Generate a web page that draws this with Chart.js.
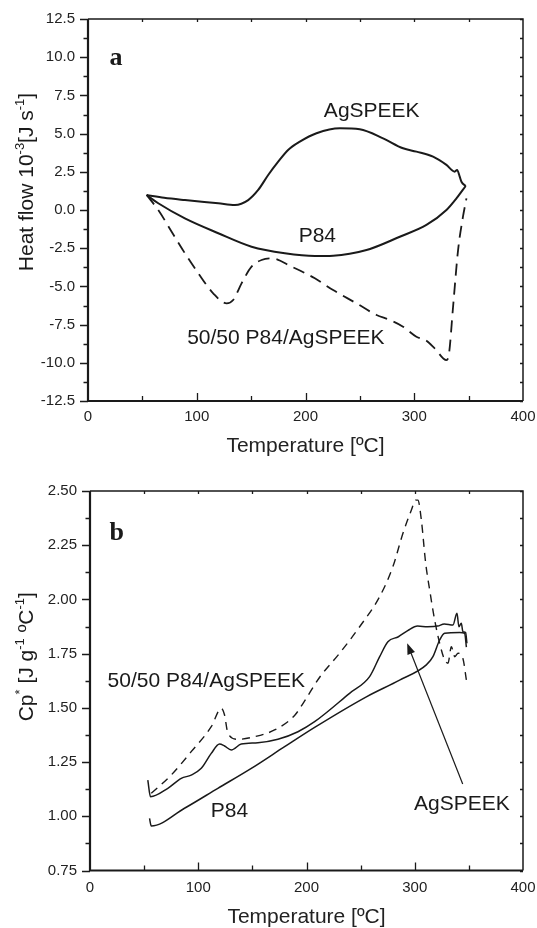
<!DOCTYPE html>
<html>
<head>
<meta charset="utf-8">
<script src="https://cdn.jsdelivr.net/npm/chart.js@4.4.1/dist/chart.umd.min.js"></script>
<style>
body { margin: 0; background: #fff; }
canvas { display: block; }
</style>
</head>
<body>
<canvas id="chartA" width="537" height="460"></canvas>
<canvas id="chartB" width="537" height="468"></canvas>
<script>
// ---- panel a : heat flow (10^-3 J/s) ----
var tempAgA = [53.9, 70, 89.1, 119.8, 135.1, 147.3, 156.5, 165.7, 174.9, 184, 194.8, 210.1, 231.6, 249.9, 271.3, 289.7, 302, 317.3, 329.6, 337.2, 339.4, 341.8, 343.4, 347.3];
var heatAgA = [0.98, 0.8, 0.65, 0.44, 0.33, 0.65, 1.31, 2.29, 3.16, 3.93, 4.47, 5.02, 5.35, 5.28, 4.69, 4.04, 3.82, 3.49, 2.95, 2.51, 2.62, 2.18, 1.85, 1.57];

var tempP84A = [53.9, 64.6, 89.1, 119.8, 150.4, 181, 208.6, 225.4, 256.1, 286.7, 311.2, 329.6, 338.8, 347.3];
var heatP84A = [0.98, 0.44, -0.55, -1.52, -2.4, -2.83, -3.01, -2.99, -2.62, -1.75, -0.98, 0, 0.76, 1.57];

var tempMixA = [53.9, 64.6, 76.9, 89.1, 101.4, 115.1, 127.5, 133.5, 141.2, 150.4, 159.6, 168.8, 187.2, 208.6, 225.4, 246.9, 265.3, 277.5, 289.7, 302, 311.2, 318.8, 329.6, 332, 335.7, 340.3, 344.8, 348];
var heatMixA = [0.98, 0.0, -1.42, -2.83, -4.14, -5.45, -6.11, -5.89, -4.8, -3.71, -3.27, -3.16, -3.71, -4.47, -5.24, -6.11, -6.87, -7.2, -7.64, -8.29, -8.55, -9.05, -9.82, -9.38, -6.33, -2.62, -0.44, 0.76];

// ---- panel b : Cp* (J/g/C) ----
var tempP84B = [55, 56.6, 87.3, 118.1, 149, 179.8, 207.5, 255.3, 286, 310.7, 316.8, 323, 327.6, 341.5, 346.1, 347.7];
var cpP84B = [0.99, 0.955, 1.037, 1.129, 1.221, 1.321, 1.41, 1.551, 1.628, 1.698, 1.736, 1.813, 1.844, 1.847, 1.844, 1.78];

var tempAgB = [53.4, 55.9, 71.9, 84.3, 93.5, 102.8, 112, 119.7, 124.3, 130.5, 139.7, 155.1, 173.6, 192.1, 207.5, 239.8, 258.3, 267.6, 275.2, 284.9, 293.5, 302.6, 311.9, 321.1, 327.3, 335.3, 339, 340.8, 343, 344.5, 347, 348.2];
var cpAgB = [1.167, 1.09, 1.129, 1.175, 1.19, 1.221, 1.29, 1.333, 1.324, 1.306, 1.333, 1.339, 1.355, 1.39, 1.436, 1.567, 1.644, 1.736, 1.805, 1.828, 1.856, 1.877, 1.874, 1.877, 1.887, 1.882, 1.936, 1.874, 1.89, 1.851, 1.847, 1.798];

var tempMixB = [56.6, 75, 93.5, 112, 121.3, 124.3, 127.4, 136.6, 152, 170.5, 189, 198, 212, 230.6, 249.1, 267.6, 279.8, 289.1, 296.9, 300.8, 302.9, 306.1, 310.1, 313.8, 318.4, 323, 327.6, 330.7, 333.8, 337, 340, 344.5, 347.7];
var cpMixB = [1.106, 1.19, 1.298, 1.413, 1.498, 1.467, 1.383, 1.355, 1.367, 1.398, 1.465, 1.53, 1.64, 1.752, 1.874, 2.013, 2.151, 2.305, 2.412, 2.458, 2.458, 2.366, 2.167, 2.043, 1.905, 1.798, 1.721, 1.706, 1.782, 1.736, 1.752, 1.728, 1.628];

var FONT = "'Liberation Sans', Arial, Helvetica, sans-serif";
Chart.defaults.font.family = FONT;
Chart.defaults.color = '#222';

function pts(xs, ys) {
  return xs.map(function (x, i) { return { x: x, y: ys[i] }; });
}

function line(xs, ys, dash, w) {
  return {
    data: pts(xs, ys),
    showLine: true,
    borderColor: '#1a1a1a',
    borderWidth: w,
    borderDash: dash,
    pointRadius: 0,
    cubicInterpolationMode: 'monotone',
    fill: false
  };
}

// frame, tick marks, texts and arrow
var decor = {
  id: 'decor',
  afterDatasetsDraw: function (chart, args, o) {
    var ctx = chart.ctx, a = chart.chartArea;
    var xs = chart.scales.x, ys = chart.scales.y;
    ctx.save();
    ctx.strokeStyle = '#1a1a1a';
    ctx.fillStyle = '#1a1a1a';

    // y ticks (major out on the left, minor shorter), small inward ticks on the right
    ctx.lineWidth = 1.3;
    var n = Math.round((ys.max - ys.min) / (o.yStep / 2));
    for (var i = 0; i <= n; i++) {
      var py = Math.round(ys.getPixelForValue(ys.min + i * o.yStep / 2)) + 0.5;
      var len = i % 2 === 0 ? 8 : 4.5;
      ctx.beginPath();
      ctx.moveTo(a.left - len, py); ctx.lineTo(a.left, py);
      ctx.moveTo(a.right, py); ctx.lineTo(a.right - 3, py);
      ctx.stroke();
    }
    // x ticks every 50, inward (longer at the labelled hundreds)
    for (var v = xs.min + 50; v < xs.max; v += 50) {
      var px = Math.round(xs.getPixelForValue(v)) + 0.5;
      var tl = v % 100 === 0 ? 8 : 5;
      ctx.beginPath();
      ctx.moveTo(px, a.bottom); ctx.lineTo(px, a.bottom - tl);
      ctx.moveTo(px, a.top); ctx.lineTo(px, a.top + 3);
      ctx.stroke();
    }
    // frame
    ctx.lineWidth = 1.5;
    ctx.beginPath();
    ctx.moveTo(a.left, a.top); ctx.lineTo(a.right, a.top); ctx.lineTo(a.right, a.bottom);
    ctx.stroke();
    ctx.lineWidth = 2.2;
    ctx.beginPath();
    ctx.moveTo(a.left, a.top); ctx.lineTo(a.left, a.bottom); ctx.lineTo(a.right, a.bottom);
    ctx.stroke();

    // panel letter
    ctx.font = 'bold 26px "Liberation Serif", "Times New Roman", serif';
    ctx.textAlign = 'left';
    ctx.textBaseline = 'alphabetic';
    ctx.fillText(o.letter.text, xs.getPixelForValue(o.letter.x), ys.getPixelForValue(o.letter.y));

    // curve labels
    ctx.font = '21px ' + FONT;
    ctx.textAlign = 'center';
    ctx.textBaseline = 'middle';
    o.labels.forEach(function (l) {
      ctx.fillText(l.text, xs.getPixelForValue(l.x), ys.getPixelForValue(l.y));
    });

    // arrow
    (o.arrows || []).forEach(function (ar) {
      var x1 = xs.getPixelForValue(ar.x1), y1 = ys.getPixelForValue(ar.y1);
      var x2 = xs.getPixelForValue(ar.x2), y2 = ys.getPixelForValue(ar.y2);
      var ang = Math.atan2(y2 - y1, x2 - x1);
      ctx.lineWidth = 1.2;
      ctx.beginPath();
      ctx.moveTo(x1, y1);
      ctx.lineTo(x2 - 8 * Math.cos(ang), y2 - 8 * Math.sin(ang));
      ctx.stroke();
      ctx.beginPath();
      ctx.moveTo(x2, y2);
      ctx.lineTo(x2 - 11 * Math.cos(ang) + 4 * Math.sin(ang), y2 - 11 * Math.sin(ang) - 4 * Math.cos(ang));
      ctx.lineTo(x2 - 11 * Math.cos(ang) - 4 * Math.sin(ang), y2 - 11 * Math.sin(ang) + 4 * Math.cos(ang));
      ctx.closePath();
      ctx.fill();
    });

    // rotated y title with superscripts
    var segs = o.yTitle;
    var cy = (a.top + a.bottom) / 2 + o.yTitleShift;
    ctx.translate(o.yTitleX, cy);
    ctx.rotate(-Math.PI / 2);
    ctx.textAlign = 'left';
    ctx.textBaseline = 'alphabetic';
    var total = 0;
    segs.forEach(function (s) {
      ctx.font = (s.sup ? '13px ' : '21px ') + FONT;
      total += ctx.measureText(s.t).width;
    });
    var cx = -total / 2;
    segs.forEach(function (s) {
      ctx.font = (s.sup ? '13px ' : '21px ') + FONT;
      ctx.fillText(s.t, cx, s.sup ? -9 : 0);
      cx += ctx.measureText(s.t).width;
    });
    ctx.restore();
  }
};

function makeChart(id, datasets, yMin, yMax, yStep, yDec, yWidth, xHeight, padTop, tickPad, titlePad, deco) {
  return new Chart(document.getElementById(id), {
    type: 'scatter',
    data: { datasets: datasets },
    plugins: [decor],
    options: {
      responsive: false,
      animation: false,
      layout: { padding: { top: padTop, right: 14, left: 0, bottom: 0 } },
      plugins: {
        legend: { display: false },
        tooltip: { enabled: false },
        decor: deco
      },
      scales: {
        x: {
          type: 'linear',
          min: 0, max: 400,
          grid: { display: false, drawTicks: false },
          border: { display: false },
          ticks: { stepSize: 100, padding: tickPad, maxRotation: 0, font: { size: 15 }, color: '#222' },
          title: { display: true, text: 'Temperature [ºC]', color: '#222',
                   font: { size: 21, lineHeight: 1 }, padding: { top: 0, bottom: titlePad } },
          afterFit: function (s) { s.height = xHeight; s.paddingLeft = 0; s.paddingRight = 0; }
        },
        y: {
          type: 'linear',
          min: yMin, max: yMax,
          grid: { display: false, drawTicks: false },
          border: { display: false },
          ticks: {
            stepSize: yStep, padding: 13, font: { size: 15 }, color: '#222',
            callback: function (v) { return Number(v).toFixed(yDec); }
          },
          afterFit: function (s) { s.width = yWidth; s.paddingTop = 0; s.paddingBottom = 0; }
        }
      }
    }
  });
}

makeChart('chartA', [
  line(tempAgA, heatAgA, [], 2),
  line(tempP84A, heatP84A, [], 2),
  line(tempMixA, heatMixA, [12, 7], 1.8)
], -12.5, 12.5, 2.5, 1, 88, 59, 19, 7, 3, {
  yStep: 2.5,
  letter: { text: 'a', x: 19.8, y: 9.49 },
  labels: [
    { text: 'AgSPEEK', x: 260.9, y: 6.48 },
    { text: 'P84', x: 210.9, y: -1.72 },
    { text: '50/50 P84/AgSPEEK', x: 181.9, y: -8.4 }
  ],
  yTitleX: 32.5,
  yTitleShift: -28,
  yTitle: [
    { t: 'Heat flow 10' }, { t: '-3', sup: true }, { t: '[J s' }, { t: '-1', sup: true }, { t: ']' }
  ]
});

makeChart('chartB', [
  line(tempP84B, cpP84B, [], 1.5),
  line(tempAgB, cpAgB, [], 1.5),
  line(tempMixB, cpMixB, [8, 6], 1.4)
], 0.75, 2.5, 0.25, 2, 90, 57.5, 31, 8, 0.5, {
  yStep: 0.25,
  letter: { text: 'b', x: 18.1, y: 2.274 },
  labels: [
    { text: '50/50 P84/AgSPEEK', x: 107.4, y: 1.621 },
    { text: 'P84', x: 128.9, y: 1.022 },
    { text: 'AgSPEEK', x: 343.6, y: 1.056 }
  ],
  arrows: [{ x1: 344.3, y1: 1.149, x2: 293.0, y2: 1.798 }],
  yTitleX: 33,
  yTitleShift: -24,
  yTitle: [
    { t: 'Cp' }, { t: '*', sup: true }, { t: ' [J g' }, { t: '-1', sup: true }, { t: ' ºC' }, { t: '-1', sup: true }, { t: ']' }
  ]
});
</script>
</body>
</html>
